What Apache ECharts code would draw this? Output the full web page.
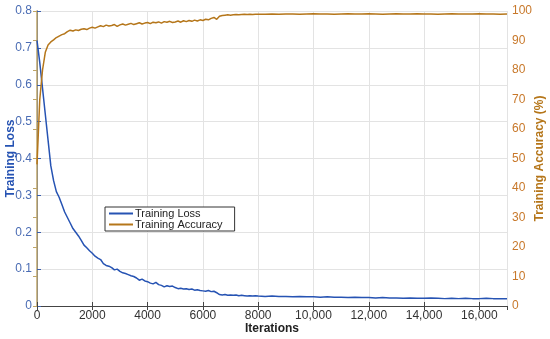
<!DOCTYPE html>
<html>
<head>
<meta charset="utf-8">
<script src="https://cdn.jsdelivr.net/npm/echarts@6/dist/echarts.min.js"></script>
<style>
  html, body { margin: 0; padding: 0; background: #fff; }
  #chart { width: 550px; height: 339px; }
</style>
</head>
<body>
<div id="chart"></div>
<script>
// 迭代次数 (x)
const iterations = [
    0, 100, 200, 300, 400, 500, 600, 700, 800, 900,
    1000, 1100, 1200, 1300, 1400, 1500, 1600, 1700, 1800, 1900,
    2000, 2100, 2200, 2300, 2400, 2500, 2600, 2700, 2800, 2900,
    3000, 3100, 3200, 3300, 3400, 3500, 3600, 3700, 3800, 3900,
    4000, 4100, 4200, 4300, 4400, 4500, 4600, 4700, 4800, 4900,
    5000, 5100, 5200, 5300, 5400, 5500, 5600, 5700, 5800, 5900,
    6000, 6100, 6200, 6300, 6400, 6500, 6600, 6700, 6800, 6900,
    7000, 7100, 7200, 7300, 7400, 7500, 7600, 7700, 7800, 7900,
    8000, 8250, 8500, 8750, 9000, 9250, 9500, 9750,
    10000, 10250, 10500, 10750, 11000, 11250, 11500, 11750,
    12000, 12250, 12500, 12750, 13000, 13250, 13500, 13750,
    14000, 14250, 14500, 14750, 15000, 15250, 15500, 15750,
    16000, 16250, 16500, 16750, 17000
];

// 训练损失
const trainingLoss = [
    0.72, 0.66, 0.59, 0.52, 0.45, 0.38, 0.34, 0.31, 0.295, 0.275,
    0.255, 0.24, 0.225, 0.21, 0.20, 0.19, 0.178, 0.165, 0.158, 0.15,
    0.143, 0.135, 0.13, 0.126, 0.115, 0.11, 0.108, 0.104, 0.098, 0.1,
    0.094, 0.09, 0.088, 0.085, 0.082, 0.08, 0.076, 0.07, 0.073, 0.068,
    0.066, 0.062, 0.06, 0.064, 0.058, 0.056, 0.052, 0.055, 0.053, 0.054,
    0.05, 0.047, 0.048, 0.046, 0.047, 0.045, 0.046, 0.043, 0.044, 0.042,
    0.041, 0.04, 0.042, 0.039, 0.04, 0.036, 0.031, 0.03, 0.031, 0.029,
    0.03, 0.029, 0.03, 0.028, 0.029, 0.028, 0.027, 0.028, 0.027, 0.028,
    0.027, 0.026, 0.027, 0.026, 0.026, 0.025, 0.026, 0.025,
    0.025, 0.024, 0.025, 0.024, 0.024, 0.023, 0.024, 0.023,
    0.023, 0.022, 0.023, 0.022, 0.022, 0.021, 0.022, 0.021,
    0.021, 0.022, 0.021, 0.02, 0.021, 0.02, 0.021, 0.02,
    0.02, 0.021, 0.02, 0.02, 0.02
];

// 训练准确率 (%)
const trainingAccuracy = [
    48, 70, 80, 86, 88.5, 89.5, 90.2, 91, 91.5, 92,
    92.3, 93, 93.5, 93.2, 93.6, 93.4, 93.8, 94, 93.7, 94.2,
    94.5, 94.2, 94.6, 95, 94.7, 95.2, 94.9, 95.1, 95.4, 94.8,
    95.3, 95.6, 95.2, 95.5, 95.8, 95.4, 95.7, 96, 95.6, 95.9,
    96.1, 95.7, 96.2, 96, 96.3, 95.9, 96.4, 96.2, 96.5, 96.1,
    96.3, 96.6, 96.2, 96.7, 96.4, 96.8, 96.5, 96.9, 96.6, 97,
    96.8, 97.2, 97, 97.5, 97.8, 97.2, 98.2, 98.5, 98.6, 98.7,
    98.6, 98.7, 98.8, 98.7, 98.8, 98.9, 98.8, 98.9, 98.8, 98.9,
    98.9, 98.9, 99, 98.9, 99, 99, 98.9, 99,
    99.1, 99, 99, 98.9, 99, 99.1, 99, 99,
    99.1, 99, 98.9, 99, 99.1, 99, 99, 99.1,
    99, 99, 98.9, 99, 99.1, 99, 99, 99,
    99.1, 99, 99, 98.9, 99
];

const lossColor = '#2653b3';
const accColor = '#b5761a';
const accTextColor = '#c8782a';
const font = 'Liberation Sans, Arial';

const chart = echarts.init(document.getElementById('chart'));

function pairs(ys) {
    return iterations.map((x, i) => [x, ys[i]]);
}

function xLabel(v) {
    return v >= 10000 ? v.toLocaleString('en-US') : String(v);
}

const option = {
    animation: false,
    grid: { left: 37, right: 43, top: 11, bottom: 33, containLabel: false, outerBoundsMode: 'none' },
    legend: {
        orient: 'vertical',
        left: 105,
        top: 207,
        padding: [1, 12, 1, 4],
        itemGap: 0,
        itemWidth: 24,
        itemHeight: 2,
        icon: 'rect',
        borderColor: '#333',
        borderWidth: 1,
        backgroundColor: '#fff',
        textStyle: { fontSize: 11, color: '#222', fontFamily: font, padding: [0, 0, 0, -3] },
        data: ['Training Loss', 'Training Accuracy']
    },
    xAxis: [{
        type: 'value',
        min: 0,
        max: 17000,
        interval: 2000,
        name: 'Iterations',
        nameLocation: 'middle',
        nameGap: 17,
        nameMoveOverlap: false,
        nameTextStyle: { fontWeight: 'bold', fontSize: 12, color: '#222', fontFamily: font },
        axisLine: { lineStyle: { color: '#444', width: 1 } },
        axisTick: { inside: true, length: 4, lineStyle: { color: '#444' } },
        axisLabel: { formatter: xLabel, color: '#333', fontSize: 12, margin: 4, fontFamily: font, showMaxLabel: false },
        splitLine: { show: true, lineStyle: { color: '#e3e3e3' } }
    }, {
        type: 'value',
        position: 'top',
        min: 0,
        max: 17000,
        interval: 2000,
        axisLine: { show: true, lineStyle: { color: '#444', width: 1 } },
        axisTick: { inside: true, length: 4, lineStyle: { color: '#444' } },
        axisLabel: { show: false },
        splitLine: { show: false }
    }],
    yAxis: [{
        type: 'value',
        min: 0,
        max: 0.8,
        interval: 0.1,
        name: 'Training Loss',
        nameLocation: 'middle',
        nameGap: 20,
        nameMoveOverlap: false,
        nameTextStyle: { fontWeight: 'bold', fontSize: 12, color: lossColor, fontFamily: font },
        axisLine: { show: true, lineStyle: { color: '#3a5fae', width: 1 } },
        axisTick: { show: true, inside: true, length: 4, lineStyle: { color: '#3a5fae' } },
        axisLabel: { color: '#4a6cb4', fontSize: 12, margin: 5, fontFamily: font },
        splitLine: { show: true, lineStyle: { color: '#e3e3e3' } }
    }, {
        type: 'value',
        min: 0,
        max: 100,
        interval: 10,
        position: 'right',
        name: 'Training Accuracy (%)',
        nameLocation: 'middle',
        nameGap: 27,
        nameRotate: 90,
        nameMoveOverlap: false,
        nameTextStyle: { fontWeight: 'bold', fontSize: 12, color: accColor, fontFamily: font },
        axisLine: { show: true, lineStyle: { color: '#bfa566', width: 1.5 } },
        axisTick: { show: true, inside: true, length: 4, lineStyle: { color: '#bfa566' } },
        axisLabel: { color: accTextColor, fontSize: 12, margin: 5, fontFamily: font },
        splitLine: { show: false }
    }],
    series: [{
        name: 'Training Loss',
        type: 'line',
        yAxisIndex: 0,
        showSymbol: false,
        symbol: 'none',
        lineStyle: { color: lossColor, width: 1.5 },
        itemStyle: { color: lossColor },
        data: pairs(trainingLoss)
    }, {
        name: 'Training Accuracy',
        type: 'line',
        yAxisIndex: 1,
        showSymbol: false,
        symbol: 'none',
        lineStyle: { color: accColor, width: 1.5 },
        itemStyle: { color: accColor },
        data: pairs(trainingAccuracy)
    }]
};

chart.setOption(option);
</script>
</body>
</html>
